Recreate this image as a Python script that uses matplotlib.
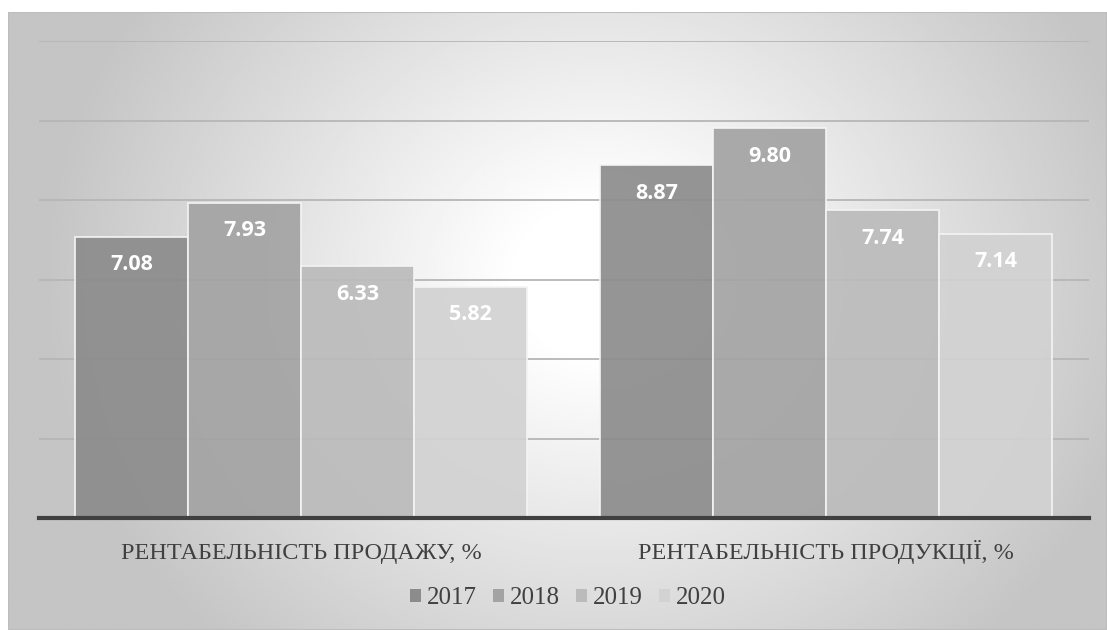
import matplotlib.pyplot as plt
import numpy as np
from matplotlib.patches import Rectangle, Patch

# Profitability indicators by year
categories = ['РЕНТАБЕЛЬНІСТЬ ПРОДАЖУ, %', 'РЕНТАБЕЛЬНІСТЬ ПРОДУКЦІЇ, %']
years = ['2017', '2018', '2019', '2020']
values_2017 = [7.08, 8.87]
values_2018 = [7.93, 9.80]
values_2019 = [6.33, 7.74]
values_2020 = [5.82, 7.14]
series = [values_2017, values_2018, values_2019, values_2020]
colors = ['#8c8c8c', '#a3a3a3', '#bbbbbb', '#d2d2d2']

W, H = 1107, 630
fig = plt.figure(figsize=(W / 100, H / 100), dpi=100)

# Chart area with a soft radial gradient fill
bg = fig.add_axes([8 / W, 0, 1 - 8 / W, (H - 12) / H], zorder=-2)
nx, ny = 400, 240
xx, yy = np.meshgrid(np.linspace(8, W, nx), np.linspace(12, H, ny))
r = np.sqrt(((xx - 600) / 560) ** 2 + ((yy - 280) / 500) ** 2)
shade = 1.0 - 0.23 * np.clip((r - 0.15) / 0.85, 0, 1)
bg.imshow(shade, cmap='gray', vmin=0, vmax=1, aspect='auto',
          extent=[0, 1, 1, 0], interpolation='bilinear')
bg.add_patch(Rectangle((0, 0), 1, 1, transform=bg.transAxes, fill=False,
                       edgecolor='#bdbdbd', linewidth=1.5))
bg.set_xlim(0, 1)
bg.set_ylim(1, 0)
bg.axis('off')

ax = fig.add_axes([38.5 / W, 112 / H, 1050 / W, 477 / H])
ax.set_facecolor('none')

bar_width = 0.2152
positions = np.arange(len(categories))

for i, (year, vals) in enumerate(zip(years, series)):
    x = positions + (i - 1.5) * bar_width
    bars = ax.bar(x, vals, bar_width, color=colors[i], alpha=0.92,
                  edgecolor='#f4f4f4', linewidth=1.3, zorder=3)
    for rect, v in zip(bars, vals):
        ax.annotate(f'{v:.2f}', (rect.get_x() + rect.get_width() / 2, v),
                    xytext=(0, -20), textcoords='offset points',
                    ha='center', va='center', color='white',
                    fontsize=15.5, fontweight='bold', family='Open Sans',
                    zorder=5)

ax.set_xlim(-0.5, 1.5)
ax.set_ylim(0, 12)
ax.set_yticks(np.arange(0, 13, 2))
ax.yaxis.grid(True, color='#b6b6b6', linewidth=1.3, zorder=1)
ax.tick_params(axis='y', left=False, labelleft=False)
ax.tick_params(axis='x', length=0, pad=29.5)
ax.set_xticks(positions)
ax.set_xticklabels(categories, family='Liberation Serif', fontsize=17.5,
                   color='#404040', va='baseline')
for side in ['top', 'right', 'left']:
    ax.spines[side].set_visible(False)
ax.spines['bottom'].set_color('#404040')
ax.spines['bottom'].set_linewidth(3)
ax.spines['bottom'].set_zorder(6)

handles = [Patch(facecolor=c, edgecolor='none', label=y)
           for c, y in zip(colors, years)]
ax.legend(handles=handles, loc='center', bbox_to_anchor=(568 / W, 1 - 598 / H),
          bbox_transform=fig.transFigure, ncol=4, frameon=False,
          handlelength=0.42, handleheight=0.42, handletextpad=0.25,
          columnspacing=0.65, prop={'family': 'Liberation Serif', 'size': 18},
          labelcolor='#404040')

fig.savefig('out.png', dpi=100)
